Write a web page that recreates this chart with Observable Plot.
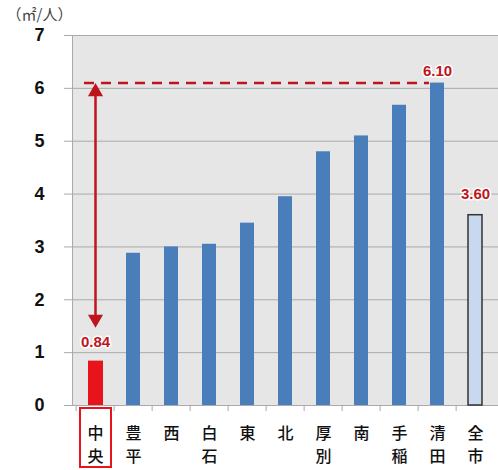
<!DOCTYPE html>
<html><head><meta charset="utf-8">
<script src="https://cdn.jsdelivr.net/npm/d3@7"></script>
<script src="https://cdn.jsdelivr.net/npm/@observablehq/plot@0.6"></script>
<style>
body{margin:0;background:#fff;}
#chart{width:498px;height:470px;}
</style></head><body><div id="chart"></div>
<script>
const categories = ["中央","豊平","西","白石","東","北","厚別","南","手稲","清田","全市"];
const values = [0.84, 2.88, 3.00, 3.05, 3.45, 3.95, 4.80, 5.10, 5.68, 6.10, 3.60];
const yTicks = [0,1,2,3,4,5,6,7];
const unitLabel = "（㎡/人）";
const highlightCategory = "中央";
const maxCategory = "清田";
const cityCategory = "全市";
const maxValue = 6.10;
const arrowBottom = 1.47;
const labelTexts = ["0.84", "6.10", "3.60"];

const W = 498, H = 470, ML = 72, MR = 0, MT = 35, MB = 65;
const step = (W - ML - MR) / categories.length;
const RED = "#e8141c", DARKRED = "#c0141c", BLUE = "#4a7ebb";
const data = categories.map((c, i) => ({category: c, value: values[i]}));
const wards = data.filter(d => d.category !== highlightCategory && d.category !== cityCategory);
const highlight = data.filter(d => d.category === highlightCategory);
const city = data.filter(d => d.category === cityCategory);
const maxRow = data.filter(d => d.category === maxCategory);
const labelStyle = {x: "category", y: "value", fill: DARKRED, stroke: "white", strokeWidth: 3, fontSize: 15, fontWeight: "bold", fontFamily: "'Liberation Sans', Arial, sans-serif"};

const chart = Plot.plot({
  width: W, height: H,
  marginLeft: ML, marginRight: MR, marginTop: MT, marginBottom: MB,
  style: {background: "#fff", fontFamily: "'Liberation Sans', Arial, sans-serif", overflow: "visible"},
  x: {domain: categories, padding: 0, label: null},
  y: {domain: [0, 7], label: null},
  marks: [
    Plot.frame({fill: "#e6e6e6", stroke: null}),
    Plot.gridY(yTicks, {stroke: "#aaaaaa", strokeOpacity: 1, strokeWidth: 1}),
    Plot.frame({anchor: "left", stroke: "#aaaaaa"}),
    Plot.axisY(yTicks, {tickSize: 8, tickPadding: 20, stroke: "#aaaaaa", fill: "#111", fontSize: 18, fontWeight: "bold", tickFormat: d => String(d), label: null}),
    Plot.ruleX(categories, {x: d => d, y1: 0, y2: 0, insetBottom: -6, dx: -step / 2, stroke: "#aaaaaa"}),
    Plot.axisX({tickSize: 0, tickPadding: 17, fontSize: 16, lineHeight: 1.46, fill: "#111",
      fontFamily: "'Noto Sans CJK JP', sans-serif", fontWeight: 500,
      tickFormat: d => Array.from(d).join("\n"), label: null}),
    Plot.barY(wards, {x: "category", y: "value", fill: BLUE, insetLeft: 12, insetRight: 12}),
    Plot.barY(highlight, {x: "category", y: "value", fill: RED, insetLeft: 12, insetRight: 11}),
    Plot.barY(city, {x: "category", y: "value", fill: "#c8d8ee", stroke: "#333", strokeWidth: 1.5, insetLeft: 12, insetRight: 12}),
    Plot.ruleY([maxValue], {x1: () => highlightCategory, x2: () => maxCategory, stroke: DARKRED, strokeWidth: 2.5, strokeDasharray: "10,7", insetLeft: 8, insetRight: 27}),
    Plot.ruleX([highlightCategory], {x: d => d, y1: maxValue, y2: arrowBottom, stroke: DARKRED, strokeWidth: 2.5, insetTop: 8, insetBottom: 8}),
    Plot.dot([highlightCategory], {x: d => d, y: maxValue, symbol: "triangle", r: 5.6, fill: DARKRED, stroke: null, dy: 8.7}),
    Plot.dot([highlightCategory], {x: d => d, y: arrowBottom, symbol: "triangle", r: 5.6, fill: DARKRED, stroke: null, rotate: 180, dy: -8.7}),
    Plot.text(highlight, {...labelStyle, text: () => labelTexts[0], dy: -19}),
    Plot.text(maxRow, {...labelStyle, text: () => labelTexts[1], dy: -12}),
    Plot.text(city, {...labelStyle, text: () => labelTexts[2], dy: -21}),
    Plot.barY([highlightCategory], {x: d => d, y1: 0, y2: 0, insetLeft: 4, insetRight: 3, insetTop: 3, insetBottom: -62, fill: "none", stroke: RED, strokeWidth: 2}),
    Plot.text([unitLabel], {frameAnchor: "top-left", dx: -66, dy: -20, textAnchor: "start", lineAnchor: "middle", fontSize: 15, fill: "#444", fontFamily: "'Noto Sans CJK JP', sans-serif"})
  ]
});
document.getElementById("chart").appendChild(chart);
</script></body></html>
